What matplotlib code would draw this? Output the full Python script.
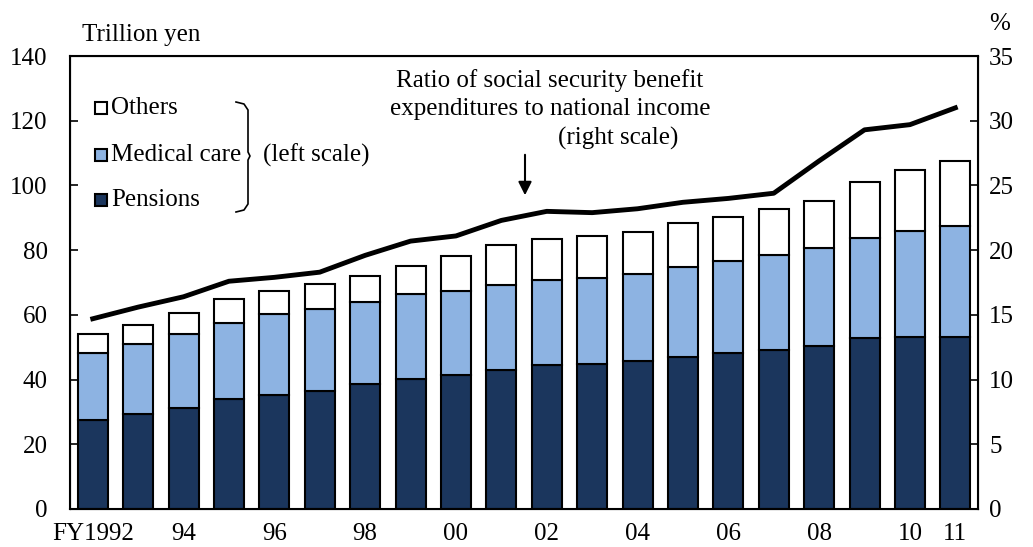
import matplotlib.pyplot as plt
import numpy as np

plt.rcParams['font.family'] = ['Liberation Serif', 'DejaVu Serif']

years = list(range(1992, 2012))
tick_labels = ['FY1992', '', '94', '', '96', '', '98', '', '00', '', '02', '',
               '04', '', '06', '', '08', '', '10', '11']

# trillion yen
pensions = [27.5, 29.3, 31.3, 33.9, 35.2, 36.6, 38.6, 40.1, 41.4, 42.9,
            44.6, 44.8, 45.7, 47.1, 48.1, 49.1, 50.4, 52.7, 53.3, 53.3]
medical = [20.8, 21.6, 22.7, 23.7, 25.0, 25.1, 25.5, 26.2, 26.0, 26.4,
           26.2, 26.7, 27.0, 27.8, 28.5, 29.4, 30.2, 31.2, 32.7, 34.2]
others = [5.7, 6.0, 6.5, 7.2, 7.3, 7.7, 8.0, 8.8, 10.9, 12.3,
          12.7, 12.9, 13.0, 13.4, 13.7, 14.3, 14.7, 17.3, 18.8, 20.0]
# % of national income
ratio = [14.7, 15.6, 16.4, 17.6, 17.9, 18.3, 19.6, 20.7, 21.1, 22.3,
         23.0, 22.9, 23.2, 23.7, 24.0, 24.4, 26.9, 29.3, 29.7, 31.0]

c_pen = '#1b365d'
c_med = '#8db3e2'
c_oth = '#ffffff'
fs = 18

fig = plt.figure(figsize=(10.33, 5.47), dpi=100)
ax = fig.add_axes([0.0678, 0.0695, 0.879, 0.828])
x = np.arange(len(years))
w = 0.66
pen = np.array(pensions)
med = np.array(medical)
oth = np.array(others)
ax.bar(x, pen, w, color=c_pen, edgecolor='black', linewidth=1.5, zorder=2)
ax.bar(x, med, w, bottom=pen, color=c_med, edgecolor='black', linewidth=1.5, zorder=2)
ax.bar(x, oth, w, bottom=pen + med, color=c_oth, edgecolor='black', linewidth=1.5, zorder=2)

ax.set_xlim(-0.5, len(years) - 0.5)
ax.set_ylim(0, 140)
ax.set_yticks(range(0, 141, 20))
ax.set_xticks(x)
ax.set_xticklabels(tick_labels)
ax.tick_params(axis='x', length=0, pad=10, labelsize=fs)
ax.tick_params(axis='y', direction='in', length=6, width=1.2, pad=16, labelsize=fs)
for s in ax.spines.values():
    s.set_linewidth(1.5)

ax2 = ax.twinx()
ax2.plot(x, ratio, color='black', linewidth=3.5, zorder=3)
ax2.set_ylim(0, 35)
ax2.set_yticks(range(0, 36, 5))
ax2.tick_params(axis='y', direction='in', length=6, width=1.2, pad=8, labelsize=fs)

fig.text(82 / 1033, 1 - 35 / 547, 'Trillion yen', fontsize=fs, ha='left', va='center')
fig.text(1000 / 1033, 1 - 24 / 547, '%', fontsize=fs, ha='center', va='center')

# legend
items = [('Others', c_oth, 108), ('Medical care', c_med, 155), ('Pensions', c_pen, 200)]
for label, col, ypx in items:
    fig.patches.append(plt.Rectangle((95 / 1033, 1 - (ypx + 6) / 547), 12 / 1033, 12 / 547,
                                     transform=fig.transFigure, facecolor=col,
                                     edgecolor='black', linewidth=1.5))
    fig.text(111 / 1033, 1 - ypx / 547, label, fontsize=fs, ha='left', va='center')
# brace
bx = [236, 244, 248, 248, 250, 248, 248, 244, 236]
by = [102, 104, 110, 152, 156, 160, 204, 210, 212]
fig.lines.append(plt.Line2D([v / 1033 for v in bx], [1 - v / 547 for v in by],
                            transform=fig.transFigure, color='black', linewidth=1.2))
fig.text(263 / 1033, 1 - 155 / 547, '(left scale)', fontsize=fs, ha='left', va='center')

fig.text(550 / 1033, 1 - 81 / 547, 'Ratio of social security benefit',
         fontsize=fs, ha='center', va='center')
fig.text(550 / 1033, 1 - 109 / 547, 'expenditures to national income',
         fontsize=fs, ha='center', va='center')
fig.text(618 / 1033, 1 - 138 / 547, '(right scale)', fontsize=fs, ha='center', va='center')
ax.annotate('', xy=(525 / 1033, 1 - 198 / 547), xytext=(525 / 1033, 1 - 152 / 547),
            xycoords='figure fraction', textcoords='figure fraction',
            arrowprops=dict(arrowstyle='-|>', color='black', lw=1.5, mutation_scale=20))

fig.savefig('out.png', dpi=100)
